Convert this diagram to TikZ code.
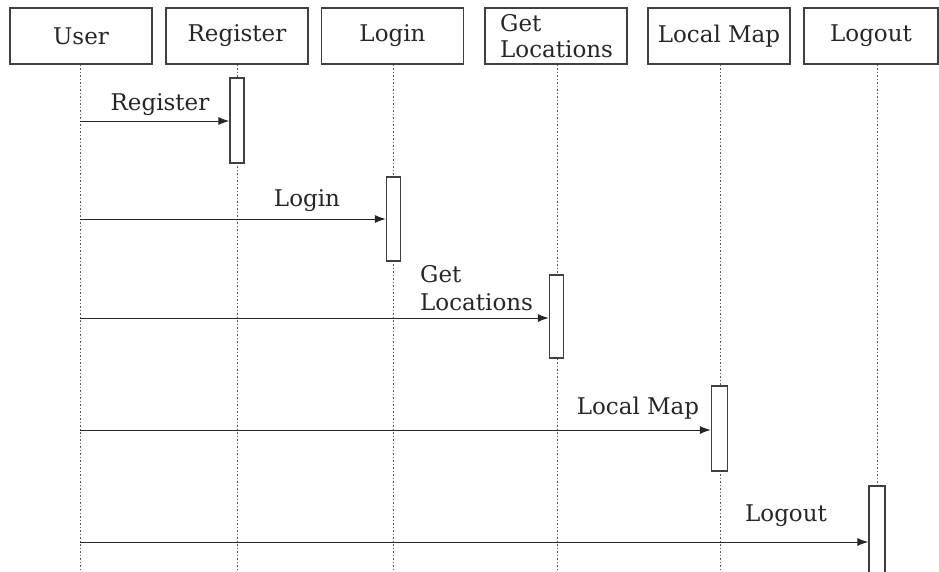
\documentclass[tikz,border=0pt]{standalone}
\usepackage{fontspec}
\setmainfont{DejaVu Serif}
\usetikzlibrary{arrows.meta}
\begin{document}
\begin{tikzpicture}[x=1pt,y=-1pt,
  head/.style={draw=black!75,line width=1.4pt,minimum width=142pt,minimum height=56pt,inner sep=0pt,font=\fontsize{23}{25}\selectfont,text=black!85},
  life/.style={draw=black!65,line width=1pt,dash pattern=on 1.5pt off 2pt},
  act/.style={draw=black!75,line width=1.3pt,fill=white,minimum width=14pt,inner sep=0pt},
  msg/.style={draw=black!85,line width=1pt,-{Latex[length=11pt,width=8pt]}},
  lbl/.style={font=\fontsize{23}{25}\selectfont,inner sep=0pt,text=black!85}]
\useasboundingbox (0,0) rectangle (939,571);
% header boxes
\node[head] (hU) at (81,36) {User};
\node[head] (hR) at (237,36) {Register};
\node[head] (hL) at (392.5,36) {\raisebox{4pt}{Login}};
\node[head] (hG) at (556,36) {};
\node[lbl,align=left,anchor=west] (tG) at (500,36) {Get\\[1pt]Locations};
\node[head] (hM) at (719,36) {\raisebox{3pt}{Local Map}};
\node[head,minimum width=134pt] (hO) at (871,36) {Logout};
% lifelines
\coordinate (eU) at (80,571);
\coordinate (eR) at (237,571);
\coordinate (eL) at (393,571);
\coordinate (eG) at (557,571);
\coordinate (eM) at (720,571);
\coordinate (eO) at (877,571);
\draw[life] (hU.south -| eU) -- (eU);
\draw[life] (hR.south -| eR) -- (eR);
\draw[life] (hL.south -| eL) -- (eL);
\draw[life] (hG.south -| eG) -- (eG);
\draw[life] (hM.south -| eM) -- (eM);
\draw[life] (hO.south -| eO) -- (eO);
% activation bars
\node[act,minimum height=85pt] (aR) at (237,120.5) {};
\node[act,minimum height=84pt] (aL) at (393.5,219) {};
\node[act,minimum height=83pt] (aG) at (556.5,316.5) {};
\node[act,minimum width=16pt,minimum height=85pt] (aM) at (719.5,428.5) {};
\node[act,minimum width=16pt,minimum height=90pt] (aO) at (877,531) {};
% message start points
\coordinate (sR) at (80,121);
\coordinate (sL) at (80,219);
\coordinate (sG) at (80,318);
\coordinate (sM) at (80,430);
\coordinate (sO) at (80,542);
% messages
\draw[msg] (sR) -- (sR -| aR.west);
\draw[msg] (sL) -- (sL -| aL.west);
\draw[msg] (sG) -- (sG -| aG.west);
\draw[msg] (sM) -- (sM -| aM.west);
\draw[msg] (sO) -- (sO -| aO.west);
% labels
\node[lbl] (lR) at (160,105) {Register};
\node[lbl] (lL) at (307,201) {Login};
\node[lbl,align=left,anchor=west] (lG) at (420,288) {Get\\[3pt]Locations};
\node[lbl] (lM) at (638,408) {Local Map};
\node[lbl] (lO) at (786,516) {Logout};
\end{tikzpicture}
\end{document}
